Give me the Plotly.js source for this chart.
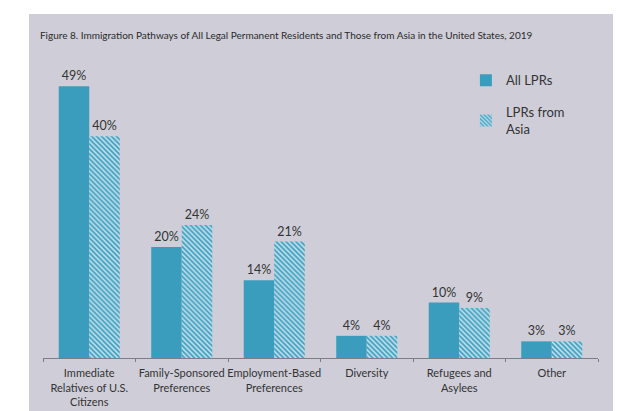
<!DOCTYPE html>
<html>
<head>
<meta charset="utf-8">
<script src="https://cdn.plot.ly/plotly-3.0.1.min.js"></script>
<style>
  html, body { margin: 0; padding: 0; background: #ffffff; width: 640px; height: 411px; overflow: hidden; }
  #panel { position: absolute; left: 29px; top: 14px; width: 584px; height: 397px; }
</style>
</head>
<body>
<div id="panel"></div>
<script>
const categories = [
  "Immediate<br>Relatives of U.S.<br>Citizens",
  "Family-Sponsored<br>Preferences",
  "Employment-Based<br>Preferences",
  "Diversity",
  "Refugees and<br>Asylees",
  "Other"
];
const allLPRs = [49, 20, 14, 4, 10, 3];
const asiaLPRs = [40, 24, 21, 4, 9, 3];
const seriesNames = ["All LPRs", "LPRs from<br>Asia"];
const titleText = "Figure 8. Immigration Pathways of All Legal Permanent Residents and Those from Asia in the United States, 2019";

const teal = "#3b9dbd";
const textColor = "#333333";

const traces = [
  {
    type: "bar",
    name: seriesNames[0],
    x: categories,
    y: allLPRs,
    legendgroup: "a",
    marker: { color: teal, line: { width: 0 } },
    texttemplate: "%{y}%",
    textposition: "outside",
    textfont: { family: "Lato, sans-serif", size: 12.5, color: textColor },
    cliponaxis: false,
    hoverinfo: "none"
  },
  {
    type: "bar",
    name: seriesNames[1],
    x: categories,
    y: asiaLPRs,
    legendgroup: "b",
    marker: {
      color: "#b9dcea",
      line: { width: 0 },
      pattern: { shape: "\\", fgcolor: teal, bgcolor: "#c4e2ee", size: 3.5, solidity: 0.5 }
    },
    texttemplate: "%{y}%",
    textposition: "outside",
    textfont: { family: "Lato, sans-serif", size: 12.5, color: textColor },
    cliponaxis: false,
    hoverinfo: "none"
  }
];

const layout = {
  width: 584,
  height: 397,
  paper_bgcolor: "#cfced8",
  plot_bgcolor: "#cfced8",
  margin: { l: 14, r: 15, t: 39, b: 53 },
  font: { family: "Lato, sans-serif", color: textColor },
  title: {
    text: titleText,
    font: { family: "Lato, sans-serif", size: 10, color: "#2a2a2a" },
    xref: "container",
    x: 0.0188,
    xanchor: "left",
    yref: "container",
    y: 0.9446,
    yanchor: "middle"
  },
  barmode: "group",
  bargap: 0.34,
  bargroupgap: 0,
  showlegend: true,
  legend: {
    x: 0.762,
    xanchor: "left",
    y: 0.96,
    yanchor: "top",
    traceorder: "grouped",
    tracegroupgap: 12,
    bgcolor: "rgba(0,0,0,0)",
    font: { family: "Lato, sans-serif", size: 13, color: textColor },
    itemwidth: 30
  },
  xaxis: {
    type: "category",
    showline: true,
    linecolor: "#7d7d85",
    linewidth: 1,
    ticks: "outside",
    tickson: "boundaries",
    ticklen: 3,
    tickcolor: "#7d7d85",
    tickangle: 0,
    ticklabelstandoff: 5,
    automargin: false,
    showgrid: false,
    zeroline: false,
    tickfont: { family: "Lato, sans-serif", size: 11, color: textColor },
    fixedrange: true
  },
  yaxis: {
    visible: false,
    range: [0, 55],
    showgrid: false,
    zeroline: false,
    fixedrange: true
  }
};

Plotly.newPlot("panel", traces, layout, { displayModeBar: false, staticPlot: true });
</script>
</body>
</html>
